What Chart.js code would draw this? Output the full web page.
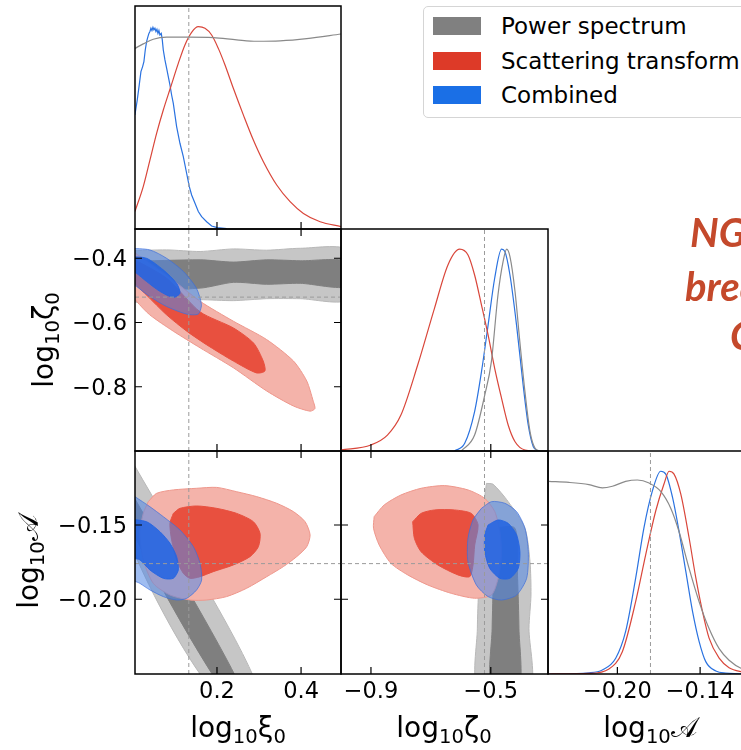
<!DOCTYPE html>
<html lang="en">
<head>
<meta charset="UTF-8">
<meta name="viewport" content="width=device-width, initial-scale=1.0">
<title>Posterior corner plot</title>
<script src="https://cdn.jsdelivr.net/npm/chart.js@4.4.1/dist/chart.umd.min.js"></script>
<style>
  body { margin: 0; background: #fff; overflow: hidden; }
  .figure { position: relative; width: 741px; height: 750px; overflow: hidden; font-family: "DejaVu Sans", sans-serif; color: #000; }
  .figure canvas { position: absolute; left: 0; top: 0; }
  .axis-title { position: absolute; font-size: 28px; line-height: 28px; white-space: nowrap; }
  .axis-title .sub { font-size: 0.7em; position: relative; top: 0.3em; }
  .axis-title.bottom { transform: translateX(-50%); }
  .axis-title.rot { transform: translate(-50%, -50%) rotate(-90deg); }
  .cal { font-family: "DejaVu Sans", "Noto Sans", serif; }
  .legend { position: absolute; left: 423px; top: 6px; width: 340px; height: 110px; border: 1px solid #d5d5d5; border-radius: 5px; background: #fff; }
  .legend .item { position: absolute; left: 9px; height: 18px; }
  .legend .swatch { position: absolute; left: 0; top: 0; width: 48px; height: 18px; }
  .legend .label { position: absolute; left: 68px; top: -6px; font-size: 23px; line-height: 30px; white-space: nowrap; }
  .note { position: absolute; font-family: Lato, sans-serif; font-weight: 700; font-style: italic; font-size: 40px; line-height: 40px; color: #c4492b; white-space: nowrap; }
</style>
</head>
<body>
<div class="figure" id="fig">
  <canvas id="c00" width="780" height="750"></canvas>
  <canvas id="c10" width="780" height="750"></canvas>
  <canvas id="c11" width="780" height="750"></canvas>
  <canvas id="c20" width="780" height="750"></canvas>
  <canvas id="c21" width="780" height="750"></canvas>
  <canvas id="c22" width="780" height="750"></canvas>

  <div class="axis-title bottom" style="left:238px; top:714px;">log<span class="sub">10</span>ξ<span class="sub">0</span></div>
  <div class="axis-title bottom" style="left:444px; top:714px;">log<span class="sub">10</span>ζ<span class="sub">0</span></div>
  <div class="axis-title bottom" style="left:650px; top:714px;">log<span class="sub">10</span><span class="cal">𝒜</span></div>
  <div class="axis-title rot" style="left:45px; top:340px;">log<span class="sub">10</span>ζ<span class="sub">0</span></div>
  <div class="axis-title rot" style="left:30px; top:562px;">log<span class="sub">10</span><span class="cal">𝒜</span></div>

  <div class="legend">
    <div class="item" style="top:10px;"><div class="swatch" style="background:#808080"></div><div class="label">Power spectrum</div></div>
    <div class="item" style="top:45px;"><div class="swatch" style="background:#dd3a28"></div><div class="label">Scattering transform</div></div>
    <div class="item" style="top:79px;"><div class="swatch" style="background:#1a6fe6"></div><div class="label">Combined</div></div>
  </div>

  <div class="note" style="left:690px; top:212px;">NG information</div>
  <div class="note" style="left:685px; top:266px;">breaks the</div>
  <div class="note" style="left:730px; top:315px;">CMB degeneracy</div>
</div>

<script>
// ---- axis limits and ticks ----
const xiLim = [0.005, 0.495];
const zetaLim = [-1.0, -0.309];
const ampLim = [-0.2503, -0.1002];
const densLim = [0, 1.1];

const xiTicks = [0.2, 0.4];
const zetaTicksX = [-0.9, -0.5];
const zetaTicksY = [-0.8, -0.6, -0.4];
const ampTicksX = [-0.20, -0.14];
const ampTicksY = [-0.20, -0.15];

// fiducial parameter values (dashed lines)
const xiTrue = 0.133;
const zetaTrue = -0.521;
const ampTrue = -0.176;

// ---- 1D marginals, [value, normalised density] ----
const xiGray1d = [[0.0048,0.891],[0.0246,0.913],[0.0485,0.936],[0.0802,0.946],[0.1318,0.946],[0.1913,0.944],[0.2469,0.933],[0.2945,0.926],[0.3501,0.928],[0.4135,0.939],[0.4953,0.962]];
const xiRed1d = [[0.0048,0.086],[0.0246,0.209],[0.0405,0.340],[0.0564,0.472],[0.0723,0.587],[0.0897,0.699],[0.1080,0.817],[0.1238,0.908],[0.1397,0.970],[0.1556,0.998],[0.1715,0.990],[0.1873,0.957],[0.2032,0.891],[0.2191,0.809],[0.2389,0.694],[0.2627,0.563],[0.2865,0.439],[0.3104,0.332],[0.3421,0.217],[0.3739,0.135],[0.4056,0.077],[0.4453,0.036],[0.4953,0.012]];
const xiBlue1d = [[0.0048,0.563],[0.0104,0.637],[0.0151,0.711],[0.0191,0.776],[0.0231,0.801],[0.0262,0.826],[0.0294,0.883],[0.0326,0.924],[0.0358,0.949],[0.0381,0.965],[0.0405,0.974],[0.0429,0.990],[0.0453,0.979],[0.0477,0.995],[0.0500,0.982],[0.0524,0.990],[0.0548,0.974],[0.0572,0.985],[0.0596,0.965],[0.0619,0.979],[0.0643,0.957],[0.0675,0.965],[0.0699,0.933],[0.0723,0.883],[0.0762,0.834],[0.0802,0.793],[0.0842,0.752],[0.0881,0.711],[0.0921,0.661],[0.0961,0.620],[0.1000,0.563],[0.1040,0.505],[0.1119,0.423],[0.1199,0.357],[0.1278,0.275],[0.1342,0.209],[0.1397,0.168],[0.1477,0.127],[0.1556,0.086],[0.1635,0.061],[0.1754,0.036],[0.1873,0.015],[0.2008,0.007],[0.2231,0.002]];

const zetaGray1d = [[-0.598,0],[-0.554,0.079],[-0.52,0.278],[-0.498,0.443],[-0.476,0.773],[-0.459,0.938],[-0.447,1.0],[-0.436,0.963],[-0.419,0.789],[-0.403,0.541],[-0.386,0.294],[-0.369,0.096],[-0.352,0.013],[-0.336,0]];
const zetaRed1d = [[-1.001,0.005],[-0.9,0.03],[-0.845,0.079],[-0.8,0.178],[-0.744,0.426],[-0.688,0.707],[-0.643,0.922],[-0.604,1.0],[-0.576,0.971],[-0.554,0.872],[-0.531,0.723],[-0.509,0.575],[-0.487,0.41],[-0.464,0.261],[-0.442,0.129],[-0.419,0.046],[-0.386,0.005],[-0.352,0]];
const zetaBlue1d = [[-0.621,0],[-0.587,0.038],[-0.554,0.195],[-0.531,0.393],[-0.509,0.624],[-0.487,0.856],[-0.464,1.0],[-0.453,0.988],[-0.436,0.872],[-0.414,0.624],[-0.392,0.327],[-0.375,0.129],[-0.358,0.021],[-0.341,0]];

const ampGray1d = [[-0.2497,0.95],[-0.2351,0.945],[-0.2206,0.934],[-0.2109,0.918],[-0.2036,0.926],[-0.194,0.95],[-0.1855,0.957],[-0.177,0.942],[-0.1686,0.901],[-0.1613,0.818],[-0.1553,0.703],[-0.148,0.521],[-0.1407,0.356],[-0.1335,0.224],[-0.1262,0.125],[-0.119,0.068],[-0.1097,0.026],[-0.1,0.01]];
const ampRed1d = [[-0.25,0],[-0.2206,0.003],[-0.2061,0.025],[-0.1964,0.11],[-0.1867,0.358],[-0.1794,0.59],[-0.1722,0.804],[-0.1662,0.937],[-0.1625,1.0],[-0.1589,0.986],[-0.154,0.887],[-0.148,0.672],[-0.1431,0.474],[-0.1383,0.309],[-0.1335,0.177],[-0.1262,0.078],[-0.119,0.031],[-0.1097,0.011],[-0.1,0.004]];
const ampBlue1d = [[-0.25,0],[-0.2206,0.006],[-0.2109,0.02],[-0.2012,0.078],[-0.194,0.21],[-0.1867,0.474],[-0.1807,0.722],[-0.1746,0.903],[-0.1686,1.0],[-0.1649,0.986],[-0.16,0.871],[-0.1553,0.705],[-0.1504,0.507],[-0.1455,0.309],[-0.1407,0.16],[-0.1359,0.061],[-0.1286,0.015],[-0.1214,0.005],[-0.1,0]];

// ---- 2D credible regions (outer = 95%, inner = 68%), polygon vertices ----
// log10 xi0 vs log10 zeta0
const grayOuterXZ = [[-0.01,-0.377],[0.08,-0.374],[0.16,-0.379],[0.239,-0.371],[0.318,-0.375],[0.398,-0.369],[0.51,-0.374],[0.51,-0.529],[0.398,-0.526],[0.318,-0.526],[0.239,-0.532],[0.16,-0.529],[0.08,-0.532],[-0.01,-0.529]];
const grayInnerXZ = [[-0.01,-0.41],[0.16,-0.405],[0.239,-0.412],[0.318,-0.405],[0.398,-0.408],[0.51,-0.41],[0.51,-0.488],[0.398,-0.478],[0.318,-0.481],[0.239,-0.475],[0.16,-0.493],[-0.01,-0.493]];
const redOuterXZ = [[-0.01,-0.37],[0.08,-0.452],[0.16,-0.534],[0.239,-0.596],[0.318,-0.653],[0.382,-0.72],[0.4135,-0.782],[0.429,-0.845],[0.433,-0.868],[0.4214,-0.876],[0.382,-0.86],[0.318,-0.813],[0.239,-0.741],[0.16,-0.679],[0.096,-0.627],[0.04,-0.576],[0.0087,-0.534],[-0.01,-0.5]];
const redInnerXZ = [[-0.01,-0.395],[0.08,-0.462],[0.16,-0.567],[0.239,-0.617],[0.287,-0.664],[0.31,-0.72],[0.314,-0.751],[0.294,-0.757],[0.239,-0.72],[0.175,-0.669],[0.128,-0.627],[0.08,-0.576],[0.032,-0.514],[-0.01,-0.455]];
const blueOuterXZ = [[-0.01,-0.369],[0.04,-0.374],[0.08,-0.40],[0.12,-0.441],[0.151,-0.493],[0.163,-0.545],[0.155,-0.574],[0.128,-0.574],[0.08,-0.55],[0.04,-0.519],[0.0087,-0.488],[-0.01,-0.47]];
const blueInnerXZ = [[-0.01,-0.395],[0.032,-0.40],[0.072,-0.436],[0.104,-0.478],[0.112,-0.509],[0.096,-0.522],[0.064,-0.503],[0.032,-0.472],[0.0087,-0.447],[-0.01,-0.431]];

// log10 xi0 vs log10 A
const grayOuterXA = [[-0.01,-0.103],[0.298,-0.26],[0.186,-0.26],[-0.01,-0.159]];
const grayInnerXA = [[-0.01,-0.125],[0.258,-0.26],[0.211,-0.26],[-0.01,-0.149]];
const redOuterXA = [[0.0366,-0.1343],[0.0564,-0.1287],[0.0961,-0.1264],[0.1516,-0.1253],[0.1992,-0.1247],[0.2469,-0.1276],[0.2945,-0.1309],[0.3421,-0.1354],[0.3818,-0.141],[0.4096,-0.1478],[0.4215,-0.1567],[0.4135,-0.1646],[0.3897,-0.1713],[0.358,-0.178],[0.3183,-0.1848],[0.2707,-0.1926],[0.223,-0.1982],[0.1754,-0.2005],[0.1358,-0.2005],[0.0881,-0.1971],[0.0485,-0.1893],[0.0246,-0.1735],[0.0167,-0.1556],[0.0246,-0.1422]];
const redInnerXA = [[0.0961,-0.1422],[0.112,-0.1388],[0.1516,-0.1372],[0.1992,-0.1388],[0.2469,-0.1422],[0.2866,-0.1478],[0.3024,-0.1556],[0.2985,-0.1646],[0.2786,-0.1713],[0.2389,-0.1769],[0.1913,-0.1814],[0.1596,-0.1848],[0.1358,-0.1859],[0.1199,-0.1825],[0.104,-0.1735],[0.0921,-0.16],[0.0881,-0.1489]];
const blueOuterXA = [[-0.01,-0.128],[0.0048,-0.1309],[0.0405,-0.1377],[0.0723,-0.1444],[0.112,-0.1534],[0.1437,-0.1646],[0.1596,-0.1758],[0.1635,-0.187],[0.1516,-0.1937],[0.1278,-0.1994],[0.104,-0.2005],[0.0723,-0.1982],[0.0405,-0.1937],[0.0167,-0.1893],[-0.01,-0.185]];
const blueInnerXA = [[-0.01,-0.146],[0.0326,-0.1478],[0.0643,-0.1545],[0.0881,-0.1623],[0.104,-0.1713],[0.108,-0.1803],[0.0961,-0.1859],[0.0723,-0.1859],[0.0405,-0.1803],[0.0167,-0.1735],[-0.01,-0.171]];

// log10 zeta0 vs log10 A
const grayOuterZA = [[-0.5146,-0.122],[-0.4922,-0.1226],[-0.4419,-0.1343],[-0.3859,-0.1522],[-0.3691,-0.1747],[-0.3658,-0.1971],[-0.3725,-0.2195],[-0.3691,-0.26],[-0.5425,-0.26],[-0.5448,-0.2195],[-0.5403,-0.1926],[-0.5313,-0.1635],[-0.5235,-0.1365]];
const grayInnerZA = [[-0.4978,-0.1522],[-0.4195,-0.1522],[-0.4105,-0.1859],[-0.406,-0.2195],[-0.406,-0.26],[-0.4978,-0.26],[-0.4955,-0.2195],[-0.4922,-0.1859]];
const redOuterZA = [[-0.8893,-0.1444],[-0.8557,-0.1365],[-0.7998,-0.1298],[-0.7327,-0.1253],[-0.6544,-0.1235],[-0.5761,-0.1264],[-0.5201,-0.1321],[-0.4866,-0.141],[-0.4698,-0.1545],[-0.4642,-0.1702],[-0.4754,-0.1859],[-0.4978,-0.1971],[-0.5537,-0.1993],[-0.632,-0.196],[-0.7103,-0.1904],[-0.7774,-0.1836],[-0.8333,-0.1758],[-0.8725,-0.1635],[-0.8915,-0.1522]];
const redInnerZA = [[-0.7606,-0.1478],[-0.7327,-0.1422],[-0.688,-0.1399],[-0.6208,-0.1399],[-0.5649,-0.1422],[-0.5425,-0.15],[-0.5537,-0.1635],[-0.5593,-0.1769],[-0.5705,-0.1848],[-0.6097,-0.1836],[-0.6768,-0.1769],[-0.7327,-0.168],[-0.755,-0.159]];
const blueOuterZA = [[-0.5313,-0.1388],[-0.4978,-0.1343],[-0.453,-0.1354],[-0.4139,-0.141],[-0.3859,-0.1522],[-0.3747,-0.168],[-0.3803,-0.1859],[-0.4139,-0.1971],[-0.4642,-0.2005],[-0.509,-0.1982],[-0.5481,-0.1904],[-0.5761,-0.1747],[-0.5761,-0.159],[-0.5593,-0.1466]];
const blueInnerZA = [[-0.509,-0.15],[-0.4754,-0.1466],[-0.4419,-0.1489],[-0.4139,-0.1567],[-0.4027,-0.168],[-0.4083,-0.1792],[-0.4363,-0.1859],[-0.4698,-0.1859],[-0.5034,-0.1792],[-0.5201,-0.168],[-0.5201,-0.1567]];

// ---- colours ----
const GRAY_LINE = '#8a8a8a', RED_LINE = '#d9463a', BLUE_LINE = '#2a72e0';
const GRAY_OUT = '#c6c6c6', GRAY_IN = '#7f7f7f';
const RED_OUT = '#f4b3aa', RED_IN = '#e8503f';
const BLUE_OUT = 'rgba(80,135,230,0.55)', BLUE_IN = 'rgba(35,100,225,0.88)';

// ---- layout: every canvas covers the figure, padding puts the plot area on its panel ----
const W = 780, H = 750;
const colEdges = [135, 341, 548, 755];
const rowEdges = [6, 229, 451, 674];

function padFor(col, row) {
  return { left: colEdges[col], right: W - colEdges[col + 1], top: rowEdges[row], bottom: H - rowEdges[row + 1] };
}

const pts = arr => arr.map(([x, y]) => ({ x, y }));

function region(arr, fill, edge, order) {
  return {
    data: pts(arr.concat([arr[0]])), fill: 'shape', backgroundColor: fill, borderColor: edge,
    borderWidth: 1, pointRadius: 0, tension: 0.25, order, clip: 0
  };
}
function curve(arr, color, smooth) {
  return {
    data: pts(arr), fill: false, borderColor: color, borderWidth: 1.2, pointRadius: 0,
    cubicInterpolationMode: smooth ? 'monotone' : 'default', tension: 0, order: 1, clip: 0
  };
}
function vline(v, lim) {
  return { data: [{ x: v, y: lim[0] }, { x: v, y: lim[1] }], borderColor: '#9a9a9a', borderWidth: 1, borderDash: [4, 3], pointRadius: 0, fill: false, order: 0, clip: 0 };
}
function hline(v, lim) {
  return { data: [{ x: lim[0], y: v }, { x: lim[1], y: v }], borderColor: '#9a9a9a', borderWidth: 1, borderDash: [4, 3], pointRadius: 0, fill: false, order: 0, clip: 0 };
}

const fmt = (v, d) => v.toFixed(d).replace('-', '\u2212');

// frame, inward ticks and tick labels
const framePlugin = {
  id: 'frame',
  afterDraw(chart, args, o) {
    const { ctx, chartArea: a } = chart;
    const sx = chart.scales.x, sy = chart.scales.y;
    const len = 7;
    ctx.save();
    ctx.strokeStyle = '#000';
    ctx.lineWidth = 1.2;
    ctx.beginPath();
    (o.xTicks || []).forEach(v => {
      const p = sx.getPixelForValue(v);
      ctx.moveTo(p, a.bottom); ctx.lineTo(p, a.bottom - len);
      if (o.allSides) { ctx.moveTo(p, a.top); ctx.lineTo(p, a.top + len); }
    });
    (o.yTicks || []).forEach(v => {
      const p = sy.getPixelForValue(v);
      ctx.moveTo(a.left, p); ctx.lineTo(a.left + len, p);
      ctx.moveTo(a.right, p); ctx.lineTo(a.right - len, p);
    });
    ctx.stroke();
    ctx.lineWidth = 1.5;
    ctx.strokeRect(a.left, a.top, a.right - a.left, a.bottom - a.top);
    ctx.fillStyle = '#000';
    ctx.font = '22.5px "DejaVu Sans"';
    ctx.textBaseline = 'alphabetic';
    if (o.xDigits !== undefined) {
      ctx.textAlign = 'center';
      o.xTicks.forEach(v => ctx.fillText(fmt(v, o.xDigits), sx.getPixelForValue(v), a.bottom + 24));
    }
    if (o.yDigits !== undefined) {
      ctx.textAlign = 'right';
      o.yTicks.forEach(v => ctx.fillText(fmt(v, o.yDigits), a.left - 8, sy.getPixelForValue(v) + 8));
    }
    ctx.restore();
  }
};

function panel(id, col, row, xLim, yLim, datasets, frame) {
  return new Chart(document.getElementById(id), {
    type: 'line',
    data: { datasets },
    options: {
      responsive: false,
      animation: false,
      events: [],
      layout: { padding: padFor(col, row) },
      scales: {
        x: { type: 'linear', display: false, min: xLim[0], max: xLim[1] },
        y: { type: 'linear', display: false, min: yLim[0], max: yLim[1] }
      },
      plugins: { legend: { display: false }, tooltip: { enabled: false }, frame }
    },
    plugins: [framePlugin]
  });
}

// diagonal: 1D marginals
panel('c00', 0, 0, xiLim, densLim, [
  curve(xiGray1d, GRAY_LINE, true),
  curve(xiRed1d, RED_LINE, true),
  curve(xiBlue1d, BLUE_LINE, false),
  vline(xiTrue, densLim)
], { xTicks: xiTicks });

panel('c11', 1, 1, zetaLim, densLim, [
  curve(zetaGray1d, GRAY_LINE, true),
  curve(zetaRed1d, RED_LINE, true),
  curve(zetaBlue1d, BLUE_LINE, true),
  vline(zetaTrue, densLim)
], { xTicks: zetaTicksX });

panel('c22', 2, 2, ampLim, densLim, [
  curve(ampGray1d, GRAY_LINE, true),
  curve(ampRed1d, RED_LINE, true),
  curve(ampBlue1d, BLUE_LINE, true),
  vline(ampTrue, densLim)
], { xTicks: ampTicksX, xDigits: 2 });

// off-diagonal: 2D credible regions
panel('c10', 0, 1, xiLim, zetaLim, [
  region(grayOuterXZ, GRAY_OUT, '#b8b8b8', 16),
  region(grayInnerXZ, GRAY_IN, GRAY_IN, 15),
  region(redOuterXZ, RED_OUT, '#ee978c', 14),
  region(redInnerXZ, RED_IN, RED_IN, 13),
  region(blueOuterXZ, BLUE_OUT, 'rgba(60,110,220,0.7)', 12),
  region(blueInnerXZ, BLUE_IN, BLUE_IN, 11),
  vline(xiTrue, zetaLim),
  hline(zetaTrue, xiLim)
], { xTicks: xiTicks, yTicks: zetaTicksY, allSides: true, yDigits: 1 });

panel('c20', 0, 2, xiLim, ampLim, [
  region(grayOuterXA, GRAY_OUT, '#b8b8b8', 16),
  region(grayInnerXA, GRAY_IN, GRAY_IN, 15),
  region(redOuterXA, RED_OUT, '#ee978c', 14),
  region(redInnerXA, RED_IN, RED_IN, 13),
  region(blueOuterXA, BLUE_OUT, 'rgba(60,110,220,0.7)', 12),
  region(blueInnerXA, BLUE_IN, BLUE_IN, 11),
  vline(xiTrue, ampLim),
  hline(ampTrue, xiLim)
], { xTicks: xiTicks, yTicks: ampTicksY, allSides: true, xDigits: 1, yDigits: 2 });

panel('c21', 1, 2, zetaLim, ampLim, [
  region(grayOuterZA, GRAY_OUT, '#b8b8b8', 16),
  region(grayInnerZA, GRAY_IN, GRAY_IN, 15),
  region(redOuterZA, RED_OUT, '#ee978c', 14),
  region(redInnerZA, RED_IN, RED_IN, 13),
  region(blueOuterZA, BLUE_OUT, 'rgba(60,110,220,0.7)', 12),
  region(blueInnerZA, BLUE_IN, BLUE_IN, 11),
  vline(zetaTrue, ampLim),
  hline(ampTrue, zetaLim)
], { xTicks: zetaTicksX, yTicks: ampTicksY, allSides: true, xDigits: 1 });
</script>
</body>
</html>
